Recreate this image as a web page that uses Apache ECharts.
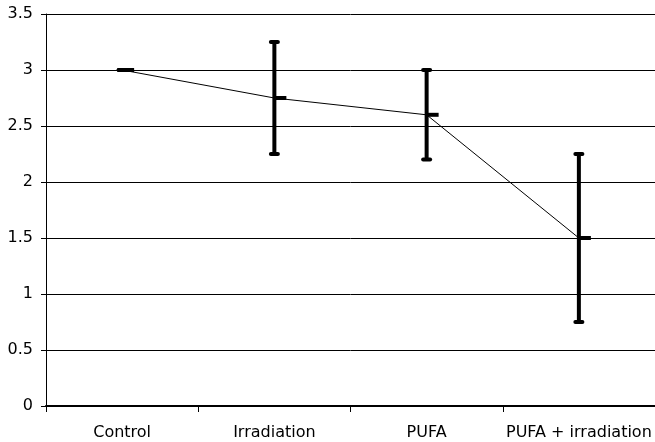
<!DOCTYPE html>
<html>
<head>
<meta charset="utf-8">
<script src="https://cdn.jsdelivr.net/npm/echarts@6/dist/echarts.min.js"></script>
<style>
  html, body { margin: 0; padding: 0; background: #fff; }
  #chart { width: 655px; height: 442px; }
</style>
</head>
<body>
<div id="chart"></div>
<script>
var categories = ['Control', 'Irradiation', 'PUFA', 'PUFA + irradiation'];
var means = [3, 2.75, 2.6, 1.5];
var lower = [3, 2.25, 2.2, 0.75];
var upper = [3, 3.25, 3.0, 2.25];
var yTicks = [0, 0.5, 1, 1.5, 2, 2.5, 3, 3.5];

var errData = categories.map(function (c, i) { return [i, lower[i], upper[i], means[i]]; });

var chart = echarts.init(document.getElementById('chart'));

// error bar + mean dash drawn through the axis coords
function renderErr(params, api) {
  var x = api.value(0);
  var lo = api.coord([x, api.value(1)]);
  var hi = api.coord([x, api.value(2)]);
  var m = api.coord([x, api.value(3)]);
  var capW = 11, capH = 4;
  var st = { fill: '#000' };
  return {
    type: 'group',
    children: [
      { type: 'rect', shape: { x: lo[0] - 2, y: hi[1], width: 4, height: lo[1] - hi[1] }, style: st },
      { type: 'rect', shape: { x: hi[0] - capW / 2, y: hi[1] - capH / 2, width: capW, height: capH, r: 2 }, style: st },
      { type: 'rect', shape: { x: lo[0] - capW / 2, y: lo[1] - capH / 2, width: capW, height: capH, r: 2 }, style: st },
      { type: 'rect', shape: { x: m[0], y: m[1] - 2, width: 12, height: 4 }, style: st }
    ]
  };
}

var font = 'DejaVu Sans, sans-serif';

chart.setOption({
  animation: false,
  grid: { left: 46, right: 0, top: 14, bottom: 36, containLabel: false },
  xAxis: {
    type: 'category',
    data: categories,
    boundaryGap: true,
    axisLine: { lineStyle: { color: '#000', width: 2 } },
    axisTick: { show: true, interval: 0, length: 6, lineStyle: { color: '#000', width: 1 } },
    axisLabel: { color: '#000', fontFamily: font, fontSize: 16, margin: 19, interval: 0, hideOverlap: false },
    splitLine: { show: false }
  },
  yAxis: {
    type: 'value',
    min: yTicks[0],
    max: yTicks[yTicks.length - 1],
    interval: 0.5,
    axisLine: { show: true, lineStyle: { color: '#000', width: 1 } },
    axisTick: { show: true, length: 5, lineStyle: { color: '#000' } },
    axisLabel: { color: '#000', fontFamily: font, fontSize: 16, margin: 13 },
    splitLine: { show: true, lineStyle: { color: '#000', width: 1 } }
  },
  series: [
    {
      type: 'line',
      data: means,
      symbol: 'none',
      lineStyle: { color: '#000', width: 1 },
      z: 3
    },
    {
      type: 'custom',
      data: errData,
      renderItem: renderErr,
      encode: { x: 0, y: [1, 2] },
      z: 4
    }
  ]
});
</script>
</body>
</html>
